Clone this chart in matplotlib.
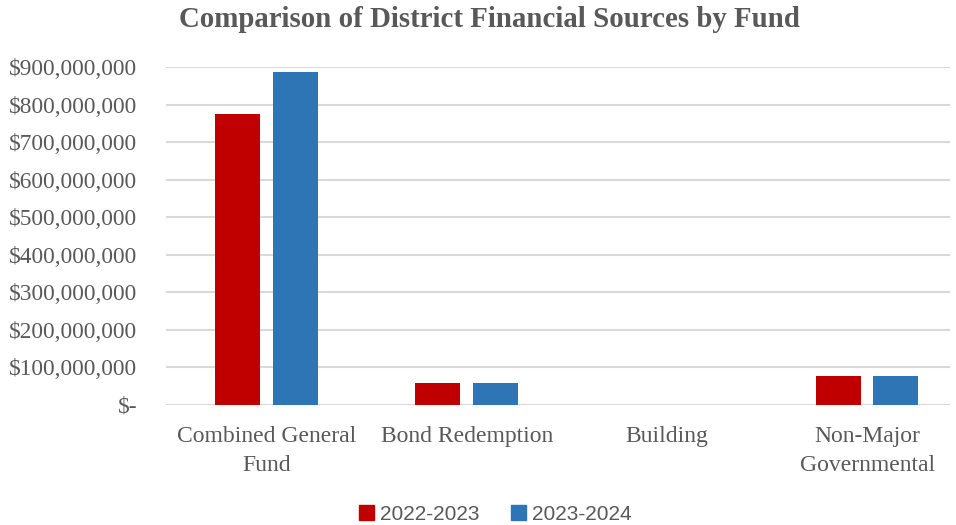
import numpy as np
import matplotlib.pyplot as plt
from matplotlib.ticker import FuncFormatter
from matplotlib.patches import Patch

categories = ["Combined General\nFund", "Bond Redemption", "Building", "Non-Major\nGovernmental"]
years = ["2022-2023", "2023-2024"]
fy2023 = [774_000_000, 57_000_000, 0, 76_000_000]
fy2024 = [886_000_000, 57_000_000, 0, 76_000_000]
colors = ["#C00000", "#2E75B6"]
gris = "#595959"

fig = plt.figure(figsize=(9.56, 5.25), dpi=100)
ax = fig.add_axes([0.174, 0.229, 0.82, 0.643])

x = np.arange(len(categories))
ancho = 0.225
ax.bar(x - 0.1435, fy2023, width=ancho, color=colors[0], zorder=3)
ax.bar(x + 0.1435, fy2024, width=ancho, color=colors[1], zorder=3)

ax.set_xlim(-0.5, 3.415)
ax.set_ylim(0, 900_000_000)
ax.set_yticks(np.arange(0, 900_000_001, 100_000_000))

def dinero(v, pos):
    if v == 0:
        return "$-"
    return f"${v:,.0f}"

ax.yaxis.set_major_formatter(FuncFormatter(dinero))
ax.grid(axis="y", color="#d9d9d9", linewidth=1.5, zorder=0)
ax.set_axisbelow(True)
for s in ax.spines.values():
    s.set_visible(False)
ax.tick_params(axis="y", length=0, pad=21, labelsize=16.8, labelcolor=gris)
ax.tick_params(axis="x", length=0, pad=15, labelsize=17, labelcolor=gris)
ax.set_xticks(x)
ax.set_xticklabels(categories, linespacing=1.5)
for lbl in ax.get_xticklabels() + ax.get_yticklabels():
    lbl.set_family("Liberation Serif")

fig.text(0.512, 0.962, "Comparison of District Financial Sources by Fund",
         ha="center", va="center", fontsize=20.8, fontweight="bold",
         color=gris, family="Liberation Serif")

handles = [Patch(color=colors[0]), Patch(color=colors[1])]
leg = fig.legend(handles, years, loc="lower center", bbox_to_anchor=(0.518, -0.033),
                 ncol=2, frameon=False, handlelength=0.72, handleheight=0.72,
                 handletextpad=0.3, columnspacing=1.5,
                 prop={"family": "Liberation Sans", "size": 15})
for t in leg.get_texts():
    t.set_color(gris)

plt.savefig("out.png", dpi=100)
